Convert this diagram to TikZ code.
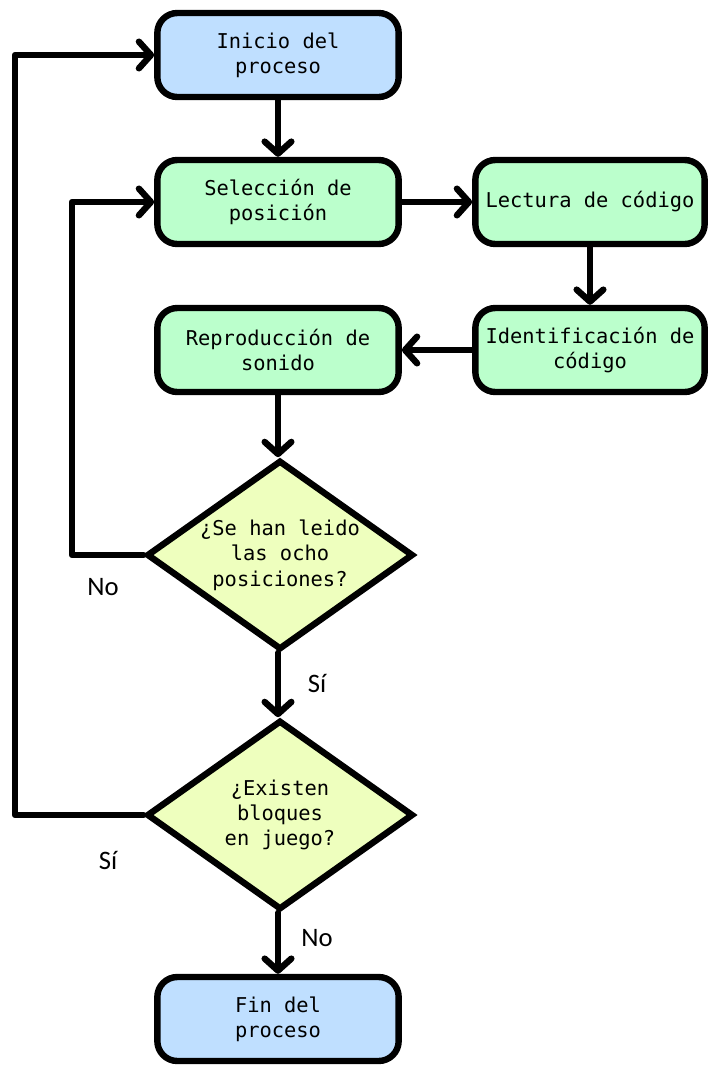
\documentclass[tikz,border=0pt]{standalone}
\usepackage{fontspec}
\setmonofont{DejaVu Sans Mono}
\newfontfamily\labelfont{Carlito}
\usetikzlibrary{shapes.geometric,arrows.meta}
\definecolor{termfill}{RGB}{191,223,255}
\definecolor{procfill}{RGB}{187,255,204}
\definecolor{decfill}{RGB}{238,255,190}
\tikzset{
  base/.style={draw=black, line width=4.8pt, align=center, inner sep=0pt,
    font=\ttfamily\fontsize{15.3}{19}\selectfont},
  termbox/.style={base, fill=termfill, rounded corners=15pt,
    minimum width=181pt, minimum height=63pt},
  procbox/.style={base, fill=procfill, rounded corners=15pt,
    minimum width=181pt, minimum height=63pt},
  decbox/.style={base, fill=decfill, shape=diamond, aspect=1.41,
    minimum width=200pt, minimum height=142pt},
  arr/.style={line width=4.8pt, line cap=round, line join=round,
    -{Straight Barb[length=9pt,width=20pt,line cap=round,line join=round]}},
  lbl/.style={font=\labelfont\fontsize{20}{24}\selectfont}
}
\begin{document}
\begin{tikzpicture}[x=0.75pt,y=-0.75pt]
\useasboundingbox (0,0) rectangle (710,1067);

% main column of steps
\node[termbox] (ini) at (278,55) {Inicio del\\proceso};
\node[procbox] (sel) at (278,202) {Selección de\\posición};
\node[procbox, minimum width=172pt] (lec) at (590,202) {Lectura de código};
\node[procbox, minimum width=172pt] (ide) at (590,350) {Identificación de\\código};
\node[procbox] (rep) at (278,350) {Reproducción de\\sonido};
\node[decbox] (d1) at (280,555) {¿Se han leido\\las ocho\\posiciones?};
\node[decbox] (d2) at (280,815) {¿Existen\\bloques\\en juego?};
\node[termbox] (fin) at (278,1019) {Fin del\\proceso};

% x positions of the two feedback loops
\coordinate (outerx) at (15,0);
\coordinate (innerx) at (72,0);

% forward flow
\draw[arr] (ini) -- (sel);
\draw[arr] (sel) -- (lec);
\draw[arr] (lec) -- (ide);
\draw[arr] (ide) -- (rep);
\draw[arr] (rep.south) -- (rep.south |- d1.north);
\draw[arr] (d1.south -| rep.south) -- (d2.north -| rep.south);
\draw[arr] (d2.south -| rep.south) -- (fin.north -| rep.south);

% feedback loops
\draw[arr] (d1.west) -- (d1.west -| innerx) |- (sel.west);
\draw[arr] (d2.west) -- (d2.west -| outerx) |- (ini.west);

% branch labels
\node[lbl] (l1) at (103,587) {No};
\node[lbl] (l2) at (317,683) {Sí};
\node[lbl] (l3) at (108,860) {Sí};
\node[lbl] (l4) at (317,938) {No};
\end{tikzpicture}
\end{document}
